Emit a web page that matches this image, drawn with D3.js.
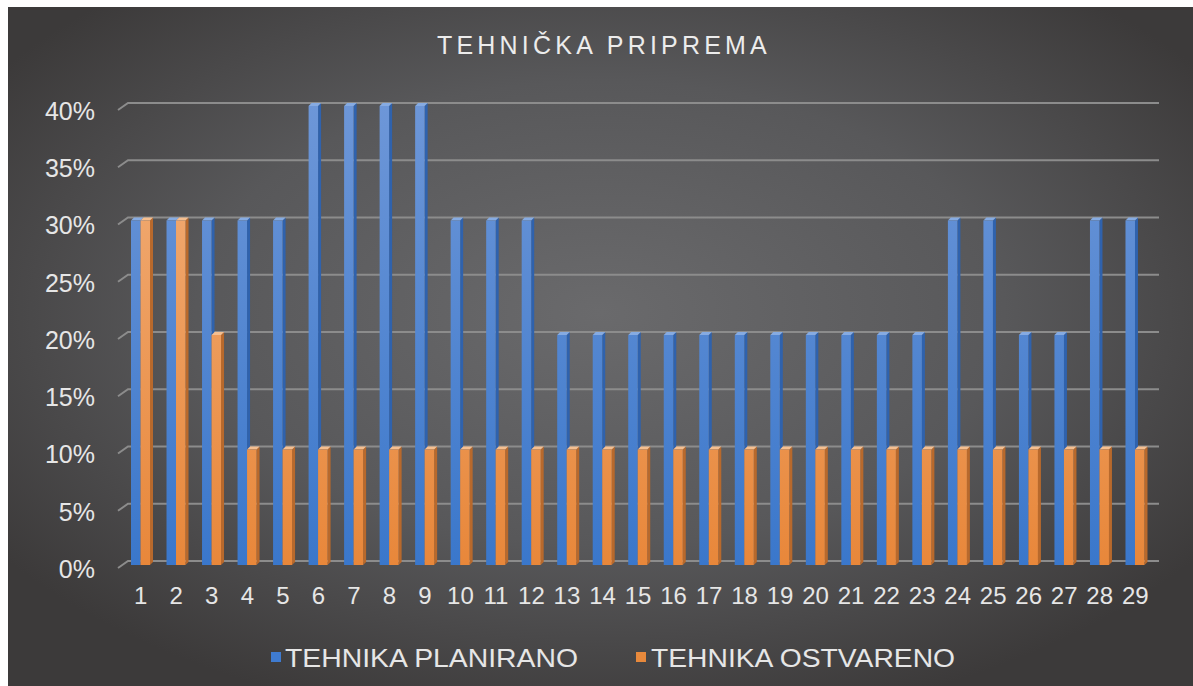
<!DOCTYPE html>
<html>
<head>
<meta charset="utf-8">
<script src="https://cdn.jsdelivr.net/npm/d3@7"></script>
<style>
  html, body { margin: 0; padding: 0; background: #fff; }
  svg { display: block; }
</style>
</head>
<body>
<div id="chart"></div>
<script>
const categories = d3.range(1, 30).map(String);
const planirano = [30, 30, 30, 30, 30, 40, 40, 40, 40, 30, 30, 30, 20, 20, 20, 20, 20, 20, 20, 20, 20, 20, 20, 30, 30, 20, 20, 30, 30];
const ostvareno = [30, 30, 20, 10, 10, 10, 10, 10, 10, 10, 10, 10, 10, 10, 10, 10, 10, 10, 10, 10, 10, 10, 10, 10, 10, 10, 10, 10, 10];
const yTicks = [0, 5, 10, 15, 20, 25, 30, 35, 40];
const seriesNames = ["TEHNIKA PLANIRANO", "TEHNIKA OSTVARENO"];

const width = 1193, height = 686;
const depthX = 10, depthY = 7; // fake 3d floor offset

const svg = d3.select("#chart").append("svg")
  .attr("width", width)
  .attr("height", height);

const defs = svg.append("defs");

const bg = defs.append("radialGradient")
  .attr("id", "bg")
  .attr("cx", "50%").attr("cy", "45%").attr("r", "62%");
bg.append("stop").attr("offset", "0%").attr("stop-color", "#6a6a6c");
bg.append("stop").attr("offset", "55%").attr("stop-color", "#58585a");
bg.append("stop").attr("offset", "100%").attr("stop-color", "#3c3a3a");

function vGrad(id, top, bottom) {
  const g = defs.append("linearGradient")
    .attr("id", id)
    .attr("gradientUnits", "userSpaceOnUse")
    .attr("x1", 0).attr("x2", 0).attr("y1", 100).attr("y2", 566);
  g.append("stop").attr("offset", "0%").attr("stop-color", top);
  g.append("stop").attr("offset", "100%").attr("stop-color", bottom);
}
vGrad("blue", "#6e97d8", "#3a77cb");
vGrad("orange", "#f2b07c", "#e8873a");

// background panel
svg.append("rect")
  .attr("x", 8).attr("y", 7)
  .attr("width", width - 8).attr("height", height - 7)
  .attr("fill", "url(#bg)");

// title
svg.append("text")
  .attr("x", 604).attr("y", 54)
  .attr("text-anchor", "middle")
  .attr("font-family", "Liberation Sans, Arial, sans-serif")
  .attr("font-size", 25)
  .attr("letter-spacing", 4.2)
  .attr("fill", "#ececec")
  .text("TEHNIČKA PRIPREMA");

const x = d3.scaleBand()
  .domain(categories)
  .range([121, 1151]);

// back wall scale
const y = d3.scaleLinear()
  .domain([0, 40])
  .range([561, 103]);

// gridlines with 3d stub
const grid = svg.append("g");
grid.selectAll("path")
  .data(yTicks)
  .join("path")
  .attr("d", d => `M${128 - depthX},${y(d) + depthY}L128,${y(d)}L1159,${y(d)}`)
  .attr("fill", "none")
  .attr("stroke", "#8c8c8c")
  .attr("stroke-width", 2);

// y labels
svg.append("g")
  .selectAll("text")
  .data(yTicks)
  .join("text")
  .attr("x", 95)
  .attr("y", d => y(d) + depthY + 1)
  .attr("dy", "0.35em")
  .attr("text-anchor", "end")
  .attr("font-family", "Liberation Sans, Arial, sans-serif")
  .attr("font-size", 25)
  .attr("fill", "#e6e6e6")
  .text(d => d + "%");

// x labels
svg.append("g")
  .selectAll("text")
  .data(categories)
  .join("text")
  .attr("x", d => x(d) + x.bandwidth() / 2 + 2)
  .attr("y", 604)
  .attr("text-anchor", "middle")
  .attr("font-family", "Liberation Sans, Arial, sans-serif")
  .attr("font-size", 24)
  .attr("fill", "#e6e6e6")
  .text(d => d);

// bars
const barW = 9.5, side = 3, off = 3;
const series = [
  { values: planirano, fill: "url(#blue)", top: "#86abe2", side: "#2f62ad", dx: 10 },
  { values: ostvareno, fill: "url(#orange)", top: "#f5bf90", side: "#b8692c", dx: 10 + barW }
];

const bars = svg.append("g");
series.forEach(s => {
  const g = bars.append("g");
  const data = categories.map((c, i) => ({ c, v: s.values[i] }));
  const bottom = y(0) + off + 1;
  // side face
  g.selectAll(".side")
    .data(data)
    .join("path")
    .attr("d", d => {
      const x0 = x(d.c) + s.dx + barW;
      const yt = y(d.v) + off;
      return `M${x0},${yt}L${x0 + side},${yt - side}L${x0 + side},${bottom - side}L${x0},${bottom}Z`;
    })
    .attr("fill", s.side);
  // top face
  g.selectAll(".top")
    .data(data)
    .join("path")
    .attr("d", d => {
      const x0 = x(d.c) + s.dx;
      const yt = y(d.v) + off;
      return `M${x0},${yt}L${x0 + side},${yt - side}L${x0 + barW + side},${yt - side}L${x0 + barW},${yt}Z`;
    })
    .attr("fill", s.top);
  // front face
  g.selectAll(".front")
    .data(data)
    .join("rect")
    .attr("x", d => x(d.c) + s.dx)
    .attr("y", d => y(d.v) + off)
    .attr("width", barW)
    .attr("height", d => bottom - (y(d.v) + off))
    .attr("fill", s.fill);
});

// legend
const legend = svg.append("g");
const legendItems = [
  { name: seriesNames[0], color: "#3f7bd0", sx: 271, tx: 285, tw: 293 },
  { name: seriesNames[1], color: "#e8893c", sx: 636, tx: 651, tw: 304 }
];
legendItems.forEach(it => {
  legend.append("rect")
    .attr("x", it.sx).attr("y", 652)
    .attr("width", 10).attr("height", 10)
    .attr("fill", it.color);
  legend.append("text")
    .attr("x", it.tx).attr("y", 667)
    .attr("font-family", "Liberation Sans, Arial, sans-serif")
    .attr("font-size", 25)
    .attr("textLength", it.tw)
    .attr("lengthAdjust", "spacingAndGlyphs")
    .attr("fill", "#e6e6e6")
    .text(it.name);
});
</script>
</body>
</html>
